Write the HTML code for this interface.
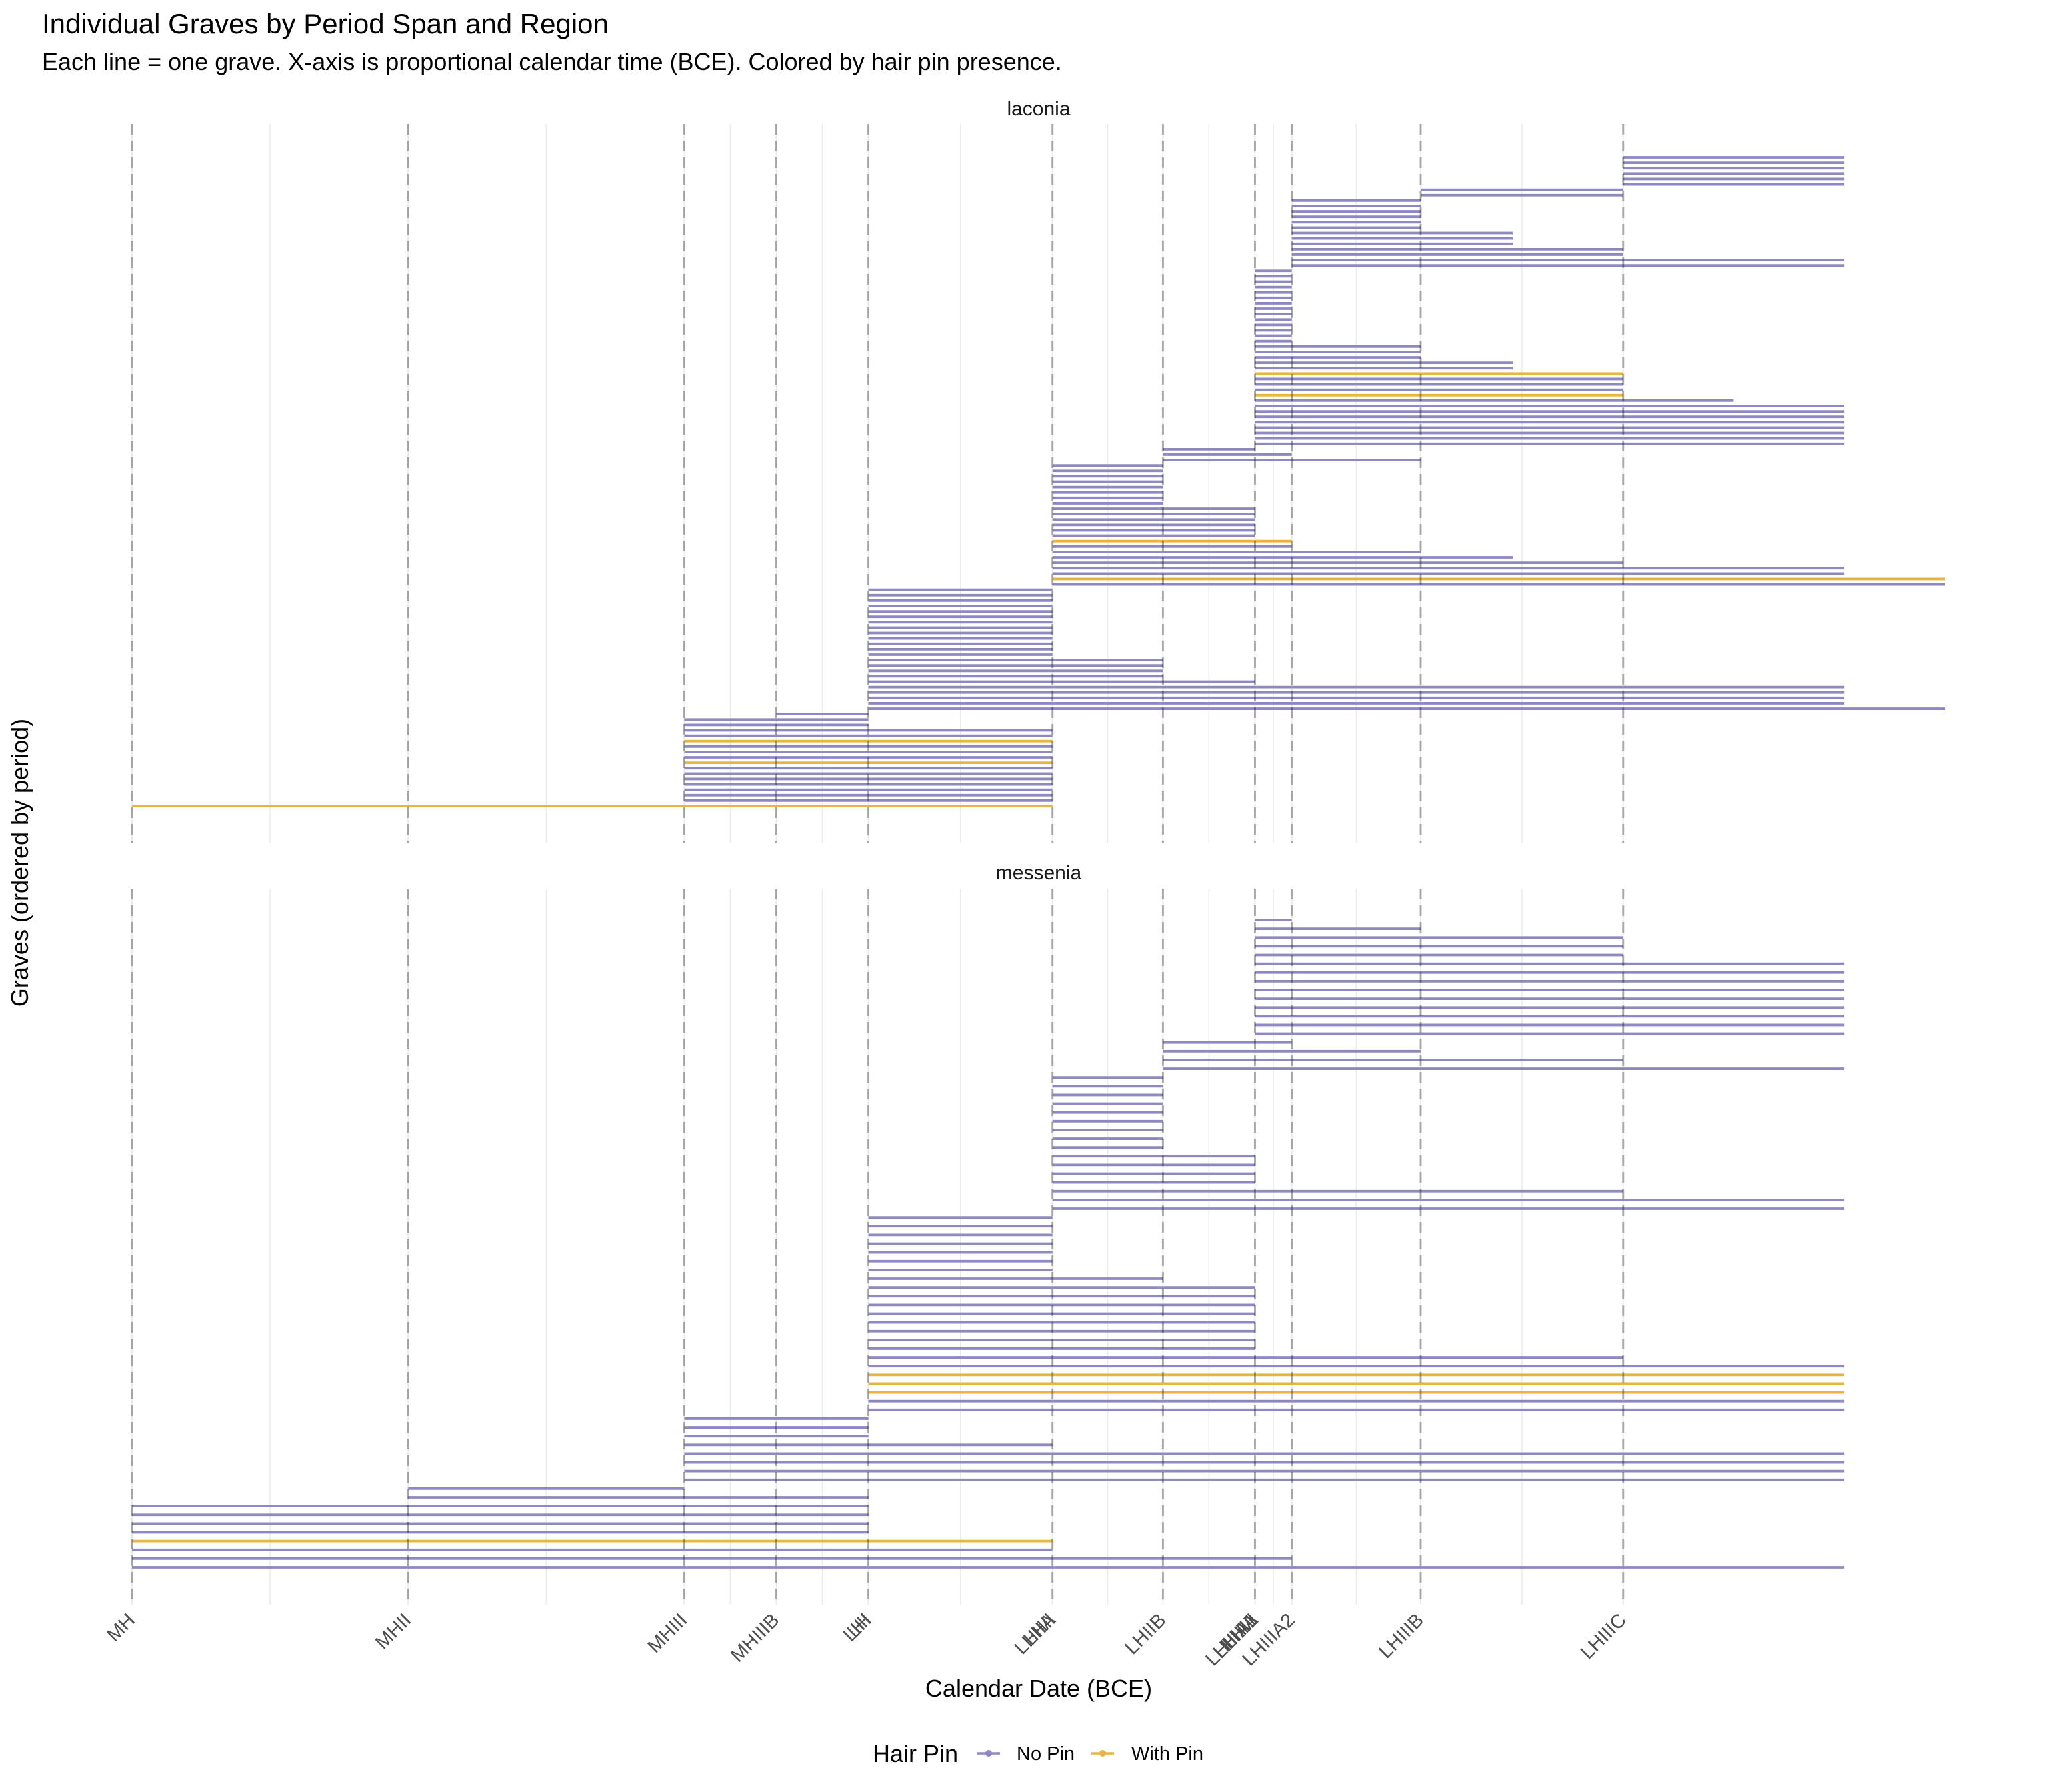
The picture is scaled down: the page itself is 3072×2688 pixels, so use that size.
<!DOCTYPE html>
<html><head><meta charset="utf-8"><style>
html,body{margin:0;padding:0;background:#fff}
svg{display:block}
text{font-family:"Liberation Sans",sans-serif}
</style></head><body>
<svg id="chart" xmlns="http://www.w3.org/2000/svg" width="3072" height="2688" viewBox="0 0 3072 2688">
<rect width="3072" height="2688" fill="#fff"/>
<text x="63" y="50" font-size="42" fill="#000">Individual Graves by Period Span and Region</text>
<text x="63" y="105" font-size="36" fill="#000">Each line = one grave. X-axis is proportional calendar time (BCE). Colored by hair pin presence.</text>
<text x="1558" y="173" font-size="30" text-anchor="middle" fill="#1a1a1a">laconia</text>
<text x="1558" y="1319" font-size="30" text-anchor="middle" fill="#1a1a1a">messenia</text>
<text transform="translate(42,1294) rotate(-90)" font-size="36" text-anchor="middle" fill="#000">Graves (ordered by period)</text>
<text x="1558" y="2545" font-size="36" text-anchor="middle" fill="#000">Calendar Date (BCE)</text>
<g id="grid"></g>
<g id="bars"></g>
<g id="dashes"></g>
<g id="ticks"></g>
<g>
<text x="1309" y="2643" font-size="36" fill="#000">Hair Pin</text>
<g>
<line x1="1466" y1="2630" x2="1500" y2="2630" stroke="#8e89c1" stroke-width="3.5"/>
<circle cx="1483" cy="2630" r="5" fill="#8e89c1"/>
<text x="1525" y="2640" font-size="29" fill="#000">No Pin</text>
</g>
<g>
<line x1="1637" y1="2630" x2="1671" y2="2630" stroke="#e8b640" stroke-width="3.5"/>
<circle cx="1654" cy="2630" r="5" fill="#e8b640"/>
<text x="1697" y="2640" font-size="29" fill="#000">With Pin</text>
</g>
</g>
</svg>
<script>
// Period break labels & years (BCE)
const breakLabels = ["MH","MHII","MHIII","MHIIIB","LH","LHI","LHII","LHIIA","LHIIB","LHIII","LHIIIA","LHIIIA1","LHIIIA2","LHIIIB","LHIIIC"];
const breakYears  = [2000,1850,1700,1650,1600,1600,1500,1500,1440,1390,1390,1390,1370,1300,1190];
const minorYears = [1925,1775,1675,1625,1550,1470,1415,1380,1335,1245];

const laconiaStart = [1190,1190,1190,1190,1190,1190,1300,1300,
1370,1370,1370,1370,1370,1370,1370,1370,1370,1370,1370,1370,1370,
1390,1390,1390,1390,1390,1390,1390,1390,1390,1390,1390,1390,1390,1390,1390,1390,1390,1390,1390,1390,1390,1390,1390,1390,1390,1390,1390,1390,1390,1390,1390,1390,1390,
1440,1440,1440,
1500,1500,1500,1500,1500,1500,1500,1500,1500,1500,1500,1500,1500,1500,1500,1500,1500,1500,1500,1500,1500,1500,1500,
1600,1600,1600,1600,1600,1600,1600,1600,1600,1600,1600,1600,1600,1600,1600,1600,1600,1600,1600,1600,1600,1600,1600,
1650,1700,1700,
1700,1700,1700,1700,1700,1700,1700,1700,1700,1700,1700,1700,1700,1700,2000];
const laconiaEnd = [1070,1070,1070,1070,1070,1070,1190,1190,
1300,1300,1300,1300,1300,1300,1250,1250,1250,1190,1190,1070,1070,
1370,1370,1370,1370,1370,1370,1370,1370,1370,1370,1370,1370,1370,1370,
1300,1300,1300,1250,1250,1190,1190,1190,1190,1190,1130,
1070,1070,1070,1070,1070,1070,1070,1070,
1390,1370,1300,
1440,1440,1440,1440,1440,1440,1440,1440,
1390,1390,1390,1390,1390,1390,1370,1370,1300,1250,1190,1070,1070,1015,1015,
1500,1500,1500,1500,1500,1500,1500,1500,1500,1500,1500,1500,1500,
1440,1440,1440,1440,1390,1070,1070,1070,1070,1015,
1600,1600,1600,
1500,1500,1500,1500,1500,1500,1500,1500,1500,1500,1500,1500,1500,1500,1500];
const laconiaPin = [0,0,0,0,0,0,0,0,0,0,0,0,0,0,0,0,0,0,0,0,
0,0,0,0,0,0,0,0,0,0,0,0,0,0,0,0,0,0,0,0,
1,0,0,0,1,0,0,0,0,0,0,0,0,0,0,0,0,0,0,0,
0,0,0,0,0,0,0,0,0,0,0,1,0,0,0,0,0,0,1,0,
0,0,0,0,0,0,0,0,0,0,0,0,0,0,0,0,0,0,0,0,
0,0,0,0,0,0,0,0,1,0,0,0,1,0,0,0,0,0,0,0,1];

const messeniaStart = [1390,1390,1390,1390,1390,1390,1390,1390,1390,1390,1390,1390,1390,1390,
1440,1440,1440,1440,
1500,1500,1500,1500,1500,1500,1500,1500,1500,1500,1500,1500,1500,1500,1500,1500,
1600,1600,1600,1600,1600,1600,1600,1600,1600,1600,1600,1600,1600,1600,1600,1600,1600,1600,1600,1600,1600,1600,1600,
1700,1700,1700,1700,1700,1700,1700,1700,
1850,1850,
2000,2000,2000,2000,2000,2000,2000,2000];
const messeniaEnd = [1370,1300,1190,1190,1190,1070,1070,1070,1070,1070,1070,1070,1070,1070,
1370,1300,1190,1070,
1440,1440,1440,1440,1440,1440,1440,1440,1440,1390,1390,1390,1390,1190,1070,1070,
1500,1500,1500,1500,1500,1500,1500,1440,1390,1390,1390,1390,1390,1390,1390,1390,1190,1070,1070,1070,1070,1070,1070,
1600,1600,1600,1500,1070,1070,1070,1070,
1700,1600,
1600,1600,1600,1600,1500,1500,1370,1070];
const messeniaPin = [0,0,0,0,0,0,0,0,0,0,0,0,0,0,0,0,0,0,0,0,
0,0,0,0,0,0,0,0,0,0,0,0,0,0,0,0,0,0,0,0,
0,0,0,0,0,0,0,0,0,0,0,0,1,1,1,0,0,0,0,0,
0,0,0,0,0,0,0,0,0,0,0,1,0,0,0];

const NS='http://www.w3.org/2000/svg';
const X0=198, X1=2918, Y0=2000, Y1=1015;
function xs(y){return X0+(Y0-y)*(X1-X0)/(Y0-Y1);}
const panels=[
 {name:'laconia',top:186,bottom:1264,firstRow:236,lastRow:1209,s:laconiaStart,e:laconiaEnd,p:laconiaPin},
 {name:'messenia',top:1333,bottom:2407,firstRow:1380,lastRow:2351,s:messeniaStart,e:messeniaEnd,p:messeniaPin}];
const grid=document.getElementById('grid'), bars=document.getElementById('bars'), dashes=document.getElementById('dashes'), ticks=document.getElementById('ticks');
function mk(tag,attrs,parent){const el=document.createElementNS(NS,tag);for(const k in attrs)el.setAttribute(k,attrs[k]);parent.appendChild(el);return el;}
const uniqueBreaks=[...new Set(breakYears)];
panels.forEach(P=>{
  minorYears.forEach(y=>{
    const l=mk('line',{x1:xs(y),x2:xs(y),y1:P.top,y2:P.bottom,stroke:'#ebebeb','stroke-width':1.5},grid);
    
    
  });
  uniqueBreaks.forEach(y=>{
    const l=mk('line',{x1:xs(y),x2:xs(y),y1:P.top,y2:P.bottom,stroke:'#ebebeb','stroke-width':2},grid);
    
    
    const d=mk('line',{x1:xs(y),x2:xs(y),y1:P.top,y2:P.bottom,stroke:'rgba(0,0,0,0.3)','stroke-width':3,'stroke-dasharray':'16 9'},dashes);
    
    
  });
  const n=P.s.length, unit=(P.lastRow-P.firstRow)/(n-1);
  for(let i=0;i<n;i++){
    const yy=P.firstRow+i*unit;
    const l=mk('line',{x1:xs(P.s[i]),x2:xs(P.e[i]),y1:yy,y2:yy,stroke:P.p[i]?'#e8b640':'#8e89c1','stroke-width':3.8},bars);
    
    
  }
});
breakLabels.forEach((lab,i)=>{
  const x=xs(breakYears[i]);
  const t=mk('text',{transform:`translate(${x+6},2432) rotate(-45)`,'text-anchor':'end','font-size':29,fill:'#4d4d4d'},ticks);
  t.textContent=lab;
  
  
});
</script>
</body></html>
